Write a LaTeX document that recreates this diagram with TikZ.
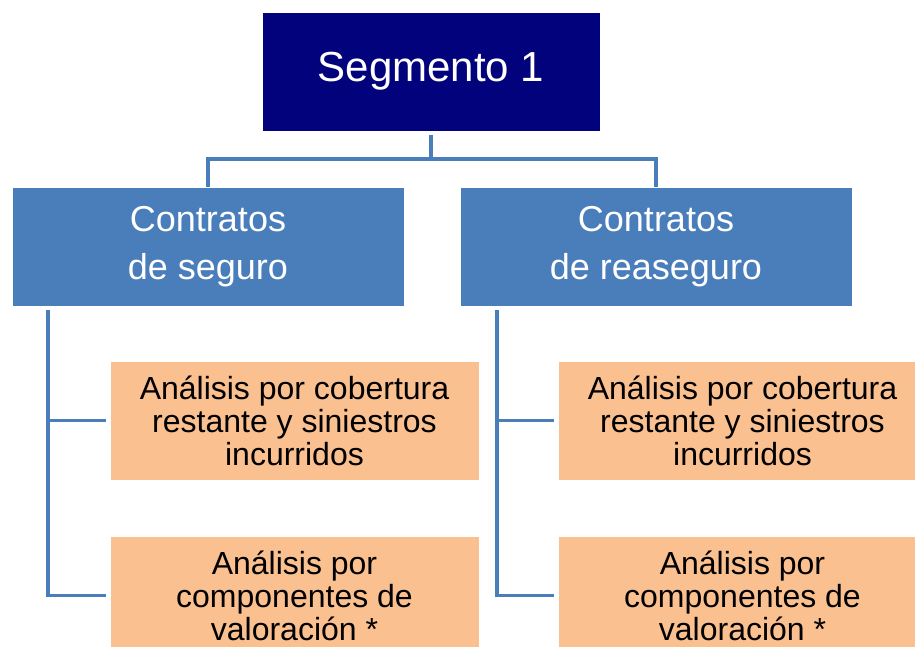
\documentclass[tikz,border=0pt]{standalone}
\usepackage{fontspec}
\setmainfont{Liberation Sans}
\usetikzlibrary{positioning}

\definecolor{azulosc}{HTML}{02027C}
\definecolor{azulmed}{HTML}{4A7EBB}
\definecolor{naranja}{HTML}{FAC090}

\tikzset{
  segbox/.style={fill=azulosc, draw=white, thin, text=white, minimum width=338pt,
    minimum height=119pt, font=\fontsize{42}{50}\selectfont},
  contbox/.style={fill=azulmed, draw=white, thin, text=white, minimum width=392pt,
    minimum height=119pt, align=center, font=\fontsize{36}{48}\selectfont},
  analbox/.style={fill=naranja, draw=white, thin, text=black, minimum width=369pt,
    minimum height=119pt, align=center, font=\fontsize{32}{33}\selectfont},
  rama/.style={draw=azulmed, line width=3.5pt}
}

\begin{document}
\begin{tikzpicture}[x=1pt, y=-1pt]
      % Marco del dibujo
      \useasboundingbox (0,0) rectangle (915,646);
      \clip (0,0) rectangle (915,646);

      % Nivel superior
      \node[segbox] (seg) at (431,71.5) {Segmento 1};

      % Tipos de contrato
      \node[contbox] (contS) at (208,246.5) {Contratos\\de seguro};
      \node[contbox] (contR) at (656,246.5) {Contratos\\de reaseguro};

      % Análisis (seguro)
      \node[analbox] (anaS1) at (294.5,420.5) {Análisis por cobertura\\restante y siniestros\\incurridos};
      \node[analbox] (anaS2) at (294.5,595.5) {Análisis por\\componentes de\\valoración *};

      % Análisis (reaseguro)
      \node[analbox] (anaR1) at (742.5,420.5) {Análisis por cobertura\\restante y siniestros\\incurridos};
      \node[analbox] (anaR2) at (742.5,595.5) {Análisis por\\componentes de\\valoración *};

      % Conectores
      \draw[rama] ([yshift=-4]seg.south) -- ++(0,24) -| (contS.north);
      \draw[rama] ([yshift=-4]seg.south) -- ++(0,24) -| (contR.north);

      \draw[rama, shorten >=4pt] ([xshift=36,yshift=-4]contS.south west) |- (anaS1.west);
      \draw[rama, shorten >=4pt] ([xshift=36,yshift=-4]contS.south west) |- (anaS2.west);
      \draw[rama, shorten >=4pt] ([xshift=37,yshift=-4]contR.south west) |- (anaR1.west);
      \draw[rama, shorten >=4pt] ([xshift=37,yshift=-4]contR.south west) |- (anaR2.west);
    \end{tikzpicture}
\end{document}
